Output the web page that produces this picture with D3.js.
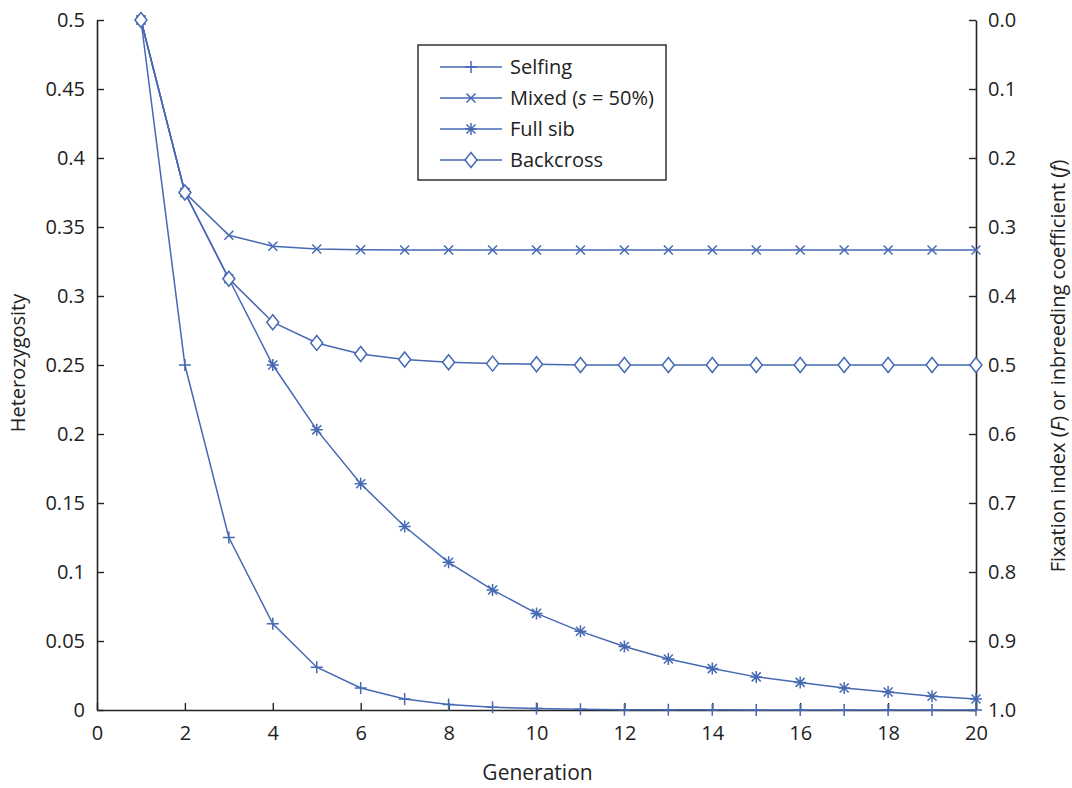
<!DOCTYPE html>
<html>
<head>
<meta charset="utf-8">
<script src="https://cdn.jsdelivr.net/npm/d3@7"></script>
<style>
  body { margin: 0; background: #fff; }
  text { font-family: "Open Sans", "Noto Sans", sans-serif; fill: #222; }
</style>
</head>
<body>
<div id="chart"></div>
<script>
// Data
const generations = [1,2,3,4,5,6,7,8,9,10,11,12,13,14,15,16,17,18,19,20];
const selfing  = [0.5,0.25,0.125,0.0625,0.031,0.016,0.008,0.004,0.002,0.001,0.0005,0.0002,0.0001,0.0001,0,0,0,0,0,0];
const mixed    = [0.5,0.375,0.344,0.336,0.334,0.3335,0.3334,0.3333,0.3333,0.3333,0.3333,0.3333,0.3333,0.3333,0.3333,0.3333,0.3333,0.3333,0.3333,0.3333];
const fullSib  = [0.5,0.375,0.3125,0.25,0.203,0.164,0.133,0.107,0.087,0.070,0.057,0.046,0.037,0.030,0.024,0.020,0.016,0.013,0.010,0.008];
const backcross= [0.5,0.375,0.3125,0.281,0.266,0.258,0.254,0.252,0.251,0.2505,0.25,0.25,0.25,0.25,0.25,0.25,0.25,0.25,0.25,0.25];

const xTicks = [0,2,4,6,8,10,12,14,16,18,20];
const yTicks = [0,0.05,0.1,0.15,0.2,0.25,0.3,0.35,0.4,0.45,0.5];
const yTickLabels = ["0","0.05","0.1","0.15","0.2","0.25","0.3","0.35","0.4","0.45","0.5"];
const rightTickLabels = ["1.0","0.9","0.8","0.7","0.6","0.5","0.4","0.3","0.2","0.1","0.0"];

const seriesNames = ["Selfing", "Mixed", "Full sib", "Backcross"];
const seriesValues = [selfing, mixed, fullSib, backcross];
const markers = ["plus", "cross", "star", "diamond"];

const color = "#4669b3";

const margin = { top: 20, right: 96, bottom: 78, left: 97 };
const width = 1072 - margin.left - margin.right;
const height = 788 - margin.top - margin.bottom;

let svg = d3.select("#chart")
    .append("svg")
    .attr("width", 1072)
    .attr("height", 788)
    .append("g")
    .attr("transform", `translate(${margin.left}, ${margin.top})`);

let x = d3.scaleLinear([0, 20], [0, width]);
let y = d3.scaleLinear([0, 0.5], [height, 0]);

// Axes (ticks point inward)
let bottomAxis = svg.append("g")
    .attr("transform", `translate(0, ${height})`)
    .call(d3.axisBottom(x).tickValues(xTicks).tickSizeInner(-7).tickSizeOuter(0).tickPadding(16));

let leftAxis = svg.append("g")
    .call(d3.axisLeft(y).tickValues(yTicks).tickFormat((d, i) => yTickLabels[i])
        .tickSizeInner(-7).tickSizeOuter(0).tickPadding(12));

let rightAxis = svg.append("g")
    .attr("transform", `translate(${width}, 0)`)
    .call(d3.axisRight(y).tickValues(yTicks).tickFormat((d, i) => rightTickLabels[i])
        .tickSizeInner(-7).tickSizeOuter(0).tickPadding(12));

[bottomAxis, leftAxis, rightAxis].forEach(a => {
    a.select(".domain").attr("stroke", "#222").attr("stroke-width", 1.6);
    a.selectAll(".tick line").attr("stroke", "#222").attr("stroke-width", 1.4);
    a.selectAll(".tick text").style("font-size", "20px").attr("fill", "#222");
});

// Axis titles
svg.append("text")
    .attr("x", width / 2 + 1)
    .attr("y", height + 70)
    .attr("text-anchor", "middle")
    .style("font-size", "21px")
    .text("Generation");

svg.append("text")
    .attr("transform", `translate(${-72}, ${height / 2 - 2}) rotate(-90)`)
    .attr("text-anchor", "middle")
    .style("font-size", "20px")
    .text("Heterozygosity");

let rt = svg.append("text")
    .attr("transform", `translate(${width + 89}, ${height / 2 + 1}) rotate(-90)`)
    .attr("text-anchor", "middle")
    .style("font-size", "20px");
rt.append("tspan").text("Fixation index (");
rt.append("tspan").style("font-style", "italic").text("F");
rt.append("tspan").text(") or inbreeding coefficient (");
rt.append("tspan").style("font-style", "italic").text("f");
rt.append("tspan").text(")");

// Marker drawing
function drawMarker(g, type, cx, cy) {
    const s = 6;
    if (type === "plus") {
        g.append("path").attr("d", `M${cx - s},${cy}H${cx + s}M${cx},${cy - s}V${cy + s}`);
    } else if (type === "cross") {
        const c = 4.5;
        g.append("path").attr("d", `M${cx - c},${cy - c}L${cx + c},${cy + c}M${cx - c},${cy + c}L${cx + c},${cy - c}`);
    } else if (type === "star") {
        const c = 4.5;
        g.append("path").attr("d",
            `M${cx - c},${cy - c}L${cx + c},${cy + c}M${cx - c},${cy + c}L${cx + c},${cy - c}M${cx},${cy - s}V${cy + s}M${cx - s},${cy}H${cx + s}`);
    } else if (type === "diamond") {
        g.append("path").attr("d", `M${cx},${cy - 7.5}L${cx + 6},${cy}L${cx},${cy + 7.5}L${cx - 6},${cy}Z`)
            .attr("fill", "#fff");
    }
}

const line = d3.line()
    .x((d, i) => x(generations[i]))
    .y(d => y(d));

seriesValues.forEach((vals, k) => {
    let g = svg.append("g")
        .attr("stroke", color)
        .attr("stroke-width", 1.5)
        .attr("fill", "none");
    g.append("path").attr("d", line(vals));
    vals.forEach((v, i) => drawMarker(g, markers[k], x(generations[i]), y(v)));
});

// Legend
let legend = svg.append("g").attr("transform", `translate(${321}, ${25})`);
legend.append("rect")
    .attr("width", 248).attr("height", 135)
    .attr("fill", "#fff").attr("stroke", "#333").attr("stroke-width", 1.5);

seriesNames.forEach((name, k) => {
    const ly = 22 + k * 31;
    let g = legend.append("g")
        .attr("stroke", color).attr("stroke-width", 1.5).attr("fill", "none");
    g.append("line").attr("x1", 22).attr("x2", 84).attr("y1", ly).attr("y2", ly);
    drawMarker(g, markers[k], 53, ly);
    let t = legend.append("text")
        .attr("x", 92).attr("y", ly + 7)
        .style("font-size", "20px");
    if (name === "Mixed") {
        t.append("tspan").text("Mixed (");
        t.append("tspan").style("font-style", "italic").text("s");
        t.append("tspan").text(" = 50%)");
    } else {
        t.text(name);
    }
});
</script>
</body>
</html>
